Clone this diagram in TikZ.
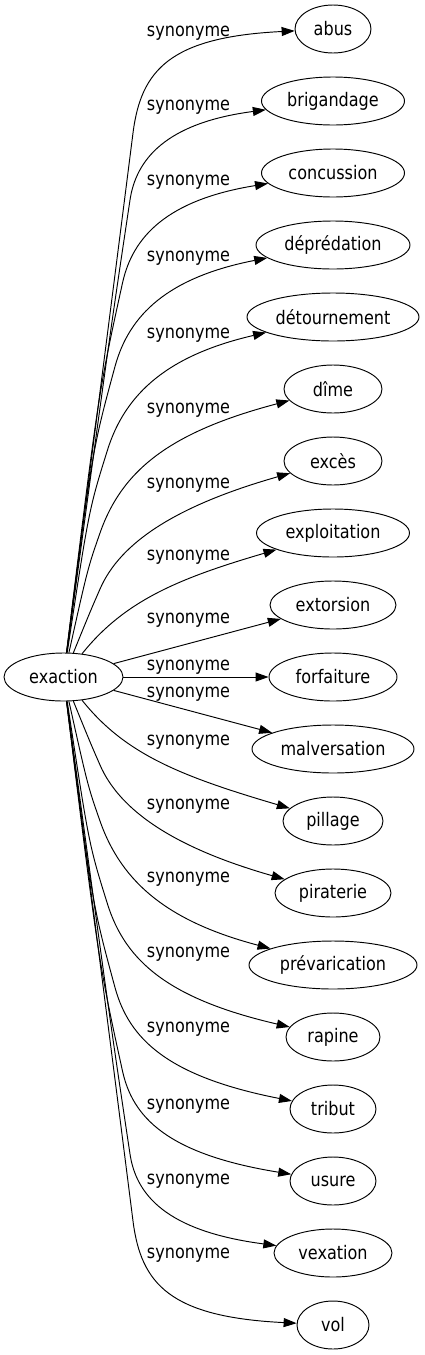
\documentclass[tikz,border=0pt]{standalone}
\usepackage{fontspec}
\setmainfont[FakeStretch=0.86]{DejaVu Sans}
\usetikzlibrary{shapes.geometric,arrows.meta,calc}
\tikzset{
  word/.style={draw, ellipse, inner sep=0pt, minimum height=48pt, line width=0.95pt,
    font=\fontsize{18.67}{22}\selectfont},
  syn/.style={inner sep=0pt, font=\fontsize{18.67}{22}\selectfont},
  edge/.style={draw, line width=0.95pt, -{Triangle[length=13pt,width=9pt]}}
}
\newcommand{\synedge}[5]{\draw[edge] (ex) .. controls ($(#2)!-#5pt!(#3)$) .. (#2) .. controls (#3) and (#4) .. (#1);}
\begin{document}
\begin{tikzpicture}[x=1pt,y=-1pt]
\useasboundingbox (0,0) rectangle (425,1355);
\node[word, minimum width=119pt] (ex) at (63.5,677) {exaction};
\node[word, minimum width=76pt]  (n0)  at (333,29)   {abus};
\node[word, minimum width=143pt] (n1)  at (333,101)  {brigandage};
\node[word, minimum width=143pt] (n2)  at (333,173)  {concussion};
\node[word, minimum width=154pt] (n3)  at (333,245)  {déprédation};
\node[word, minimum width=172pt] (n4)  at (333,317)  {détournement};
\node[word, minimum width=98pt]  (n5)  at (333,389)  {dîme};
\node[word, minimum width=98pt]  (n6)  at (333,461)  {excès};
\node[word, minimum width=153pt] (n7)  at (333,533)  {exploitation};
\node[word, minimum width=126pt] (n8)  at (333,605)  {extorsion};
\node[word, minimum width=128pt] (n9)  at (333,677)  {forfaiture};
\node[word, minimum width=162pt] (n10) at (333,749)  {malversation};
\node[word, minimum width=100pt] (n11) at (333,821)  {pillage};
\node[word, minimum width=116pt] (n12) at (333,893)  {piraterie};
\node[word, minimum width=168pt] (n13) at (333,965)  {prévarication};
\node[word, minimum width=94pt]  (n14) at (333,1037) {rapine};
\node[word, minimum width=86pt]  (n15) at (333,1109) {tribut};
\node[word, minimum width=86pt]  (n16) at (333,1181) {usure};
\node[word, minimum width=118pt] (n17) at (333,1253) {vexation};
\node[word, minimum width=72pt]  (n18) at (333,1325) {vol};
\node[syn] (l0)  at (188.5,33)   {synonyme};
\node[syn] (l1)  at (188.5,107)  {synonyme};
\node[syn] (l2)  at (188.5,182)  {synonyme};
\node[syn] (l3)  at (188.5,258)  {synonyme};
\node[syn] (l4)  at (188.5,335)  {synonyme};
\node[syn] (l5)  at (188.5,410)  {synonyme};
\node[syn] (l6)  at (188.5,485)  {synonyme};
\node[syn] (l7)  at (188.5,557)  {synonyme};
\node[syn] (l8)  at (188.5,620)  {synonyme};
\node[syn] (l9)  at (188.5,667)  {synonyme};
\node[syn] (l10) at (188.5,694)  {synonyme};
\node[syn] (l11) at (188.5,742)  {synonyme};
\node[syn] (l12) at (188.5,806)  {synonyme};
\node[syn] (l13) at (188.5,879)  {synonyme};
\node[syn] (l14) at (188.5,954)  {synonyme};
\node[syn] (l15) at (188.5,1029) {synonyme};
\node[syn] (l16) at (188.5,1106) {synonyme};
\node[syn] (l17) at (188.5,1181) {synonyme};
\node[syn] (l18) at (188.5,1255) {synonyme};
\synedge{n0}{133,133}{141,70}{170,37}{157}
\synedge{n1}{130,200}{136,160}{165,123}{137}
\synedge{n2}{122.5,283}{132.5,237.5}{166,200}{112}
\synedge{n3}{115,366.5}{129,315}{167.5,277.5}{87}
\synedge{n4}{107.5,450}{125.5,392.5}{169,355}{62}
\synedge{n5}{100,533}{122,470}{170,432}{37}
\synedge{n6}{100,589}{120,543}{175,506}{25}
\draw[edge] (ex) .. controls (125,600) and (180,578) .. (n7);
\draw[edge] (ex) -- (n8);
\draw[edge] (ex) -- (n9);
\draw[edge] (ex) -- (n10);
\draw[edge] (ex) .. controls (125,754) and (180,776) .. (n11);
\synedge{n12}{100,765}{120,811}{175,848}{25}
\synedge{n13}{100,821}{122,884}{170,922}{37}
\synedge{n14}{107.5,904}{125.5,961.5}{169,999}{62}
\synedge{n15}{115,987.5}{129,1039}{167.5,1076.5}{87}
\synedge{n16}{122.5,1071}{132.5,1116.5}{166,1154}{112}
\synedge{n17}{130,1154}{136,1194}{165,1231}{137}
\synedge{n18}{133,1221}{141,1284}{170,1317}{157}
\end{tikzpicture}
\end{document}
